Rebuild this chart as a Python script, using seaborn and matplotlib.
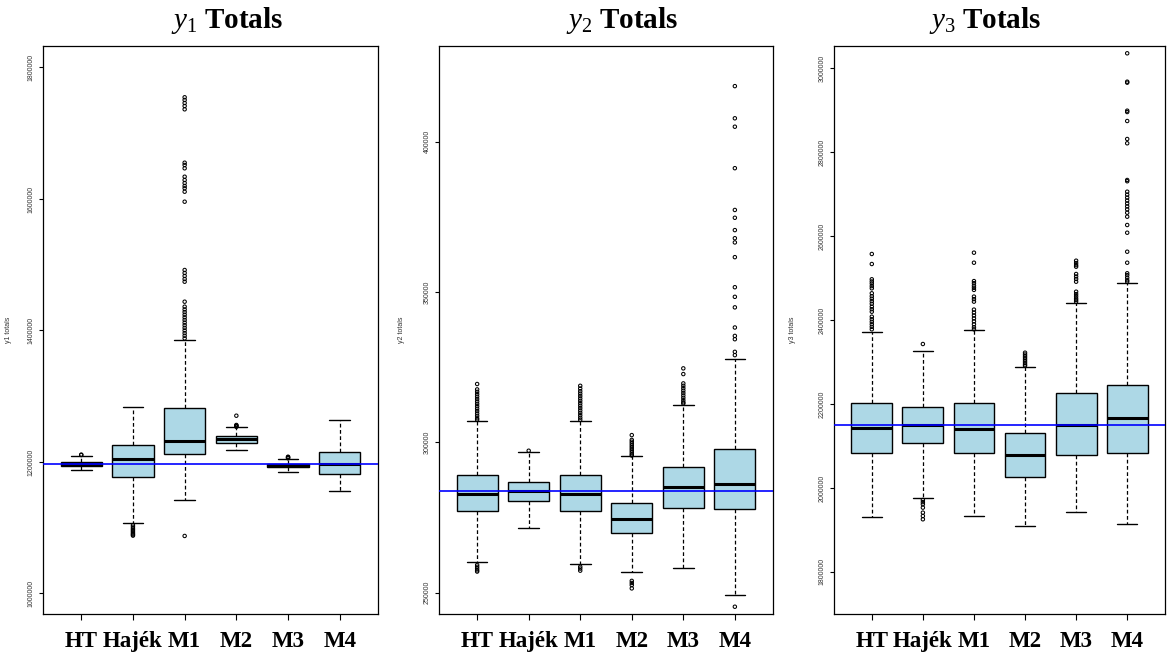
import matplotlib
matplotlib.use("Agg")
import matplotlib.pyplot as plt
import seaborn as sns
import pandas as pd
import numpy as np

# ---------------- data ----------------
methods = ["HT", "Hajék", "M1", "M2", "M3", "M4"]

# y1 totals
y1_q1 = [1194400, 1177600, 1211700, 1228900, 1191900, 1181300]
y1_med = [1197400, 1205000, 1231900, 1234500, 1194400, 1197400]
y1_q3 = [1200500, 1225400, 1281700, 1239100, 1197400, 1215700]
y1_lo = [1187800, 1106800, 1141700, 1218300, 1185200, 1155900]
y1_hi = [1209100, 1284100, 1385600, 1252800, 1204100, 1263400]
y1_out_HT = [1210600, 1211200]
y1_out_Hajek = [1104000, 1101500, 1099000, 1097000, 1095000, 1093000, 1091000, 1089500, 1088000]
y1_out_M1 = [1087500, 1754700, 1750600, 1746000, 1741400, 1736400, 1655200, 1651700, 1646700,
             1633900, 1628900, 1624300, 1619800, 1616300, 1611100, 1595900,
             1492000, 1487500, 1482900, 1478300, 1474200, 1443800,
             1436200, 1432000, 1428000, 1424000, 1420000, 1416000, 1412000, 1408000,
             1404000, 1400000, 1396000, 1392000, 1388000]
y1_out_M2 = [1253500, 1254500, 1255500, 1256300, 1270400]
y1_out_M3 = [1205600, 1206500, 1207300, 1208000]
y1_out_M4 = []
y1_truth = 1197400

# y2 totals
y2_q1 = [277240, 280370, 277140, 269725, 278040, 277710]
y2_med = [282900, 283900, 282700, 274380, 285030, 286230]
y2_q3 = [289020, 286890, 289020, 279900, 291880, 297770]
y2_lo = [260280, 271590, 259410, 256750, 258280, 249100]
y2_hi = [307190, 296770, 307190, 295340, 312310, 327810]
y2_out_HT = [319400, 317600, 316800, 316000, 315200, 314400, 313600, 312800, 312000, 311200,
             310400, 309600, 308800, 308000, 307500, 259200, 258600, 258000, 257400, 257000]
y2_out_Hajek = [297200]
y2_out_M1 = [318800, 317900, 317000, 316200, 315400, 314600, 313800, 313000, 312200, 311400,
             310600, 309800, 309000, 308200, 307500, 258600, 258000, 257300]
y2_out_M2 = [302400, 300800, 300200, 299600, 299000, 298400, 297800, 297200, 296600, 296000,
             295600, 253900, 253200, 252500, 251400]
y2_out_M3 = [324600, 322700, 319600, 318800, 318000, 317200, 316400, 315600, 314800, 314000,
             313300, 312900]
y2_out_M4 = [418500, 407800, 405000, 391200, 377300, 374700, 370600, 367900, 366500, 361600,
             351600, 348400, 344900, 338200, 335400, 334300, 330100, 329000, 245300]
y2_truth = 283900

# y3 totals
y3_q1 = [2083900, 2106300, 2082500, 2025300, 2079100, 2083900]
y3_med = [2142800, 2149200, 2139700, 2079100, 2150700, 2167300]
y3_q3 = [2201700, 2193600, 2201700, 2130200, 2225500, 2245300]
y3_lo = [1931400, 1975200, 1933000, 1909200, 1942600, 1913900]
y3_hi = [2372400, 2326300, 2376400, 2288900, 2441500, 2487700]
y3_out_HT = [2557600, 2533700, 2497300, 2492000, 2487000, 2481000, 2475800, 2463900, 2457000,
             2451000, 2445000, 2439000, 2432000, 2426000, 2420000, 2408100, 2402000, 2396000,
             2390000, 2384000, 2378100]
y3_out_Hajek = [2343000, 1971200, 1966000, 1961000, 1953000, 1941000, 1933000, 1925200]
y3_out_M1 = [2560700, 2536800, 2493000, 2488000, 2482000, 2477000, 2472000, 2456000, 2450000,
             2444000, 2425000, 2418000, 2411000, 2404000, 2397000, 2390000, 2383000, 2378000]
y3_out_M2 = [2322300, 2318000, 2314000, 2310000, 2306000, 2302000, 2298000, 2294000, 2291000]
y3_out_M3 = [2541600, 2536000, 2531000, 2527300, 2509900, 2504000, 2498000, 2491500, 2467700,
             2462000, 2457000, 2452000, 2448000, 2443900]
y3_out_M4 = [3036000, 2968300, 2966000, 2899200, 2896000, 2874600, 2831700, 2821500, 2734000,
             2731000, 2706100, 2699000, 2692000, 2685000, 2678000, 2671000, 2664000, 2656000,
             2646500, 2626700, 2608300, 2563000, 2536800, 2511600, 2507000, 2501000, 2495000,
             2491500]
y3_truth = 2150700

y1_ticks = [1000000, 1200000, 1400000, 1600000, 1800000]
y2_ticks = [250000, 300000, 350000, 400000]
y3_ticks = [1800000, 2000000, 2200000, 2400000, 2600000, 2800000, 3000000]

panels = [
    dict(sub="1", q1=y1_q1, med=y1_med, q3=y1_q3, lo=y1_lo, hi=y1_hi,
         out=[y1_out_HT, y1_out_Hajek, y1_out_M1, y1_out_M2, y1_out_M3, y1_out_M4],
         truth=y1_truth, ticks=y1_ticks, ylim=(968800, 1832700), ylabel="y1 totals"),
    dict(sub="2", q1=y2_q1, med=y2_med, q3=y2_q3, lo=y2_lo, hi=y2_hi,
         out=[y2_out_HT, y2_out_Hajek, y2_out_M1, y2_out_M2, y2_out_M3, y2_out_M4],
         truth=y2_truth, ticks=y2_ticks, ylim=(242880, 431850), ylabel="y2 totals"),
    dict(sub="3", q1=y3_q1, med=y3_med, q3=y3_q3, lo=y3_lo, hi=y3_hi,
         out=[y3_out_HT, y3_out_Hajek, y3_out_M1, y3_out_M2, y3_out_M3, y3_out_M4],
         truth=y3_truth, ticks=y3_ticks, ylim=(1699400, 3053400), ylabel="y3 totals"),
]

# ---------------- style ----------------
sns.set_style("white")
plt.rcParams["font.family"] = ["Liberation Sans", "DejaVu Sans"]
plt.rcParams["mathtext.fontset"] = "custom"
plt.rcParams["mathtext.rm"] = "Liberation Serif"
plt.rcParams["mathtext.it"] = "Liberation Serif:italic"
plt.rcParams["mathtext.bf"] = "Liberation Serif:bold"
plt.rcParams["text.color"] = "black"
plt.rcParams["axes.labelcolor"] = "black"
plt.rcParams["xtick.color"] = "black"
plt.rcParams["ytick.color"] = "black"

W, H = 1167, 653
fig = plt.figure(figsize=(W / 100, H / 100), dpi=100)
fig.patch.set_facecolor("white")

# axes rectangles in pixels: (left, right)
ax_px = [(43, 378), (439, 773), (834, 1165)]
ylabel_px = [12, 405, 796]
ax_top, ax_bot = 46, 614
title_cx = [227, 622, 985]

for k, (p, (l, r)) in enumerate(zip(panels, ax_px)):
    ax = fig.add_axes([l / W, (H - ax_bot) / H, (r - l) / W, (ax_bot - ax_top) / H])
    ax.set_facecolor("white")
    pos = list(range(len(methods)))
    stats = []
    for i, m in enumerate(methods):
        stats.append(dict(label=m, q1=p["q1"][i], med=p["med"][i], q3=p["q3"][i],
                          whislo=p["lo"][i], whishi=p["hi"][i], fliers=[]))
    ax.bxp(stats, positions=pos, widths=0.8, capwidths=0.4, showfliers=False,
           patch_artist=True,
           boxprops=dict(facecolor="#ADD8E6", edgecolor="black", linewidth=1.0),
           medianprops=dict(color="black", linewidth=2.2),
           whiskerprops=dict(color="black", linewidth=0.9, linestyle=(0, (3, 2))),
           capprops=dict(color="black", linewidth=1.0))

    # outliers via seaborn
    rows = []
    for i, vals in enumerate(p["out"]):
        for v in vals:
            rows.append((i, v))
    df = pd.DataFrame(rows, columns=["pos", "value"])
    if len(df):
        sns.scatterplot(data=df, x="pos", y="value", ax=ax, marker="o", s=6,
                        facecolor="none", edgecolor="black", linewidth=0.75,
                        legend=False, zorder=4)

    ax.axhline(p["truth"], color="blue", linewidth=1.2, zorder=6)

    ax.set_xlim(-0.74, 5.74)
    ax.set_ylim(*p["ylim"])
    ax.set_xticks(pos)
    ax.set_xticklabels(methods, fontfamily="Liberation Serif", fontweight="bold",
                       fontsize=16.5)
    ax.set_yticks(p["ticks"])
    ax.set_yticklabels([str(t) for t in p["ticks"]], rotation=90, va="center",
                       fontsize=5, color="#333333")
    ax.tick_params(axis="x", length=4, width=0.8, pad=8, direction="out",
                   bottom=True, color="black")
    ax.tick_params(axis="y", length=3, width=0.8, pad=3, direction="out",
                   left=True, color="black")
    ax.set_xlabel("")
    ax.set_ylabel(p["ylabel"], fontsize=5, color="#333333")
    ax.yaxis.set_label_coords((ylabel_px[k] - l) / (r - l), 0.5)
    for s in ax.spines.values():
        s.set_visible(True)
        s.set_color("black")
        s.set_linewidth(0.9)

    fig.text(title_cx[k] / W, 1 - 28 / H, r"$y_{%s}\ \mathbf{Totals}$" % p["sub"],
             ha="center", va="baseline", fontsize=21, color="black")

fig.savefig("out.png", dpi=100, facecolor="white")
